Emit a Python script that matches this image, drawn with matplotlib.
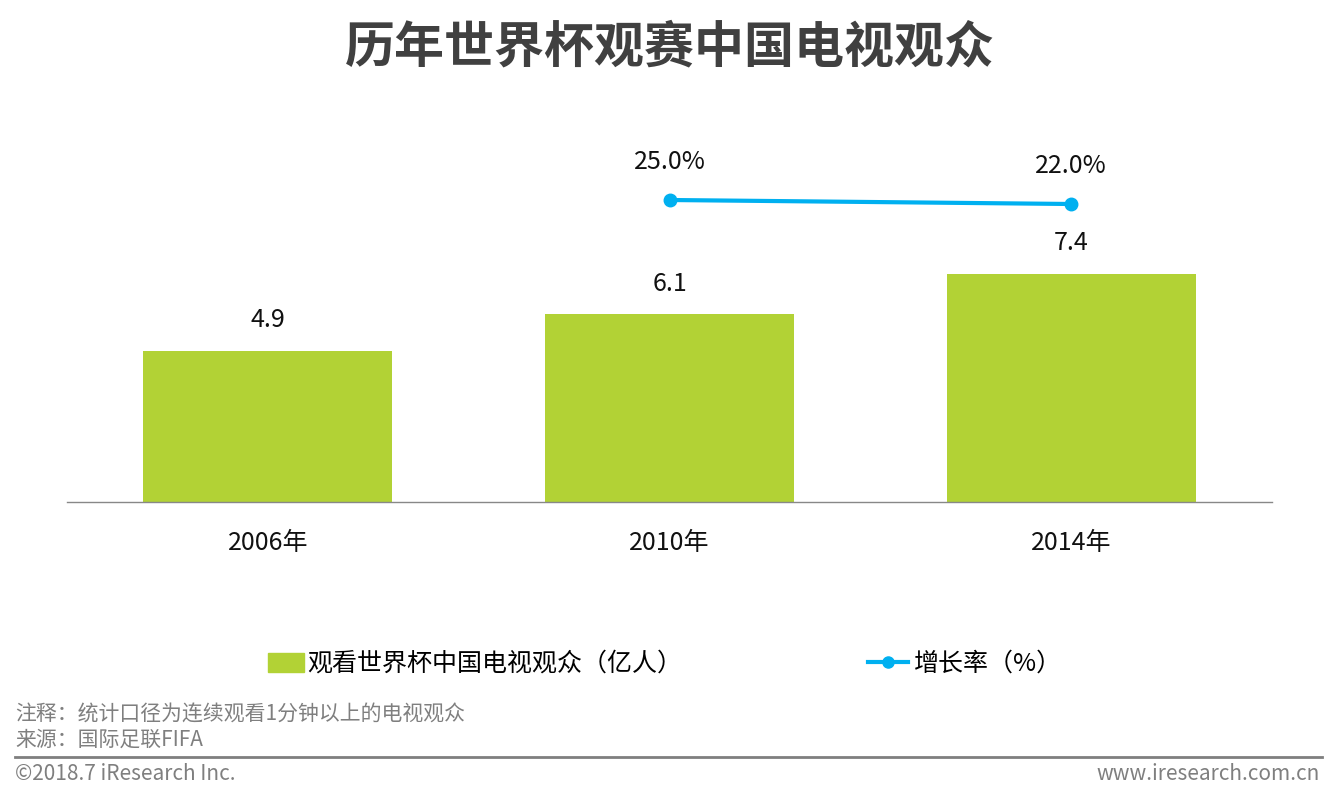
import matplotlib.pyplot as plt
from matplotlib.lines import Line2D
from matplotlib.patches import Patch

plt.rcParams['font.family'] = ['Noto Sans CJK SC', 'DejaVu Sans']

# data
years = ['2006年', '2010年', '2014年']
viewers = [4.9, 6.1, 7.4]          # 亿人
growth_years = [1, 2]
growth = [25.0, 22.0]              # %

bar_color = '#B2D235'
line_color = '#00B0F0'

fig = plt.figure(figsize=(13.35, 7.99), dpi=100)
ax = fig.add_axes([67 / 1335, 1 - 502 / 799, 1205 / 1335, 362 / 799])

x = range(len(years))
ax.bar(x, viewers, width=0.62, color=bar_color)
ax.set_xlim(-0.5, 2.5)
ax.set_ylim(0, 11.75)
for xi, v in zip(x, viewers):
    ax.annotate(f'{v:.1f}', (xi, v), xytext=(0, 22), textcoords='offset points',
                ha='center', va='center', fontsize=18, color='#111111')

ax.set_xticks(list(x))
ax.set_xticklabels(years, fontsize=18, color='#111111')
ax.tick_params(axis='x', length=0, pad=20)
ax.set_yticks([])
for s in ['top', 'right', 'left']:
    ax.spines[s].set_visible(False)
ax.spines['bottom'].set_color('#888888')
ax.spines['bottom'].set_linewidth(1)

ax2 = ax.twinx()
ax2.plot(growth_years, growth, color=line_color, lw=3, marker='o', markersize=9)
ax2.set_ylim(-201.5, 70)
ax2.set_yticks([])
for s in ax2.spines.values():
    s.set_visible(False)
for xi, g in zip(growth_years, growth):
    ax2.annotate(f'{g:.1f}%', (xi, g), xytext=(0, 27), textcoords='offset points',
                 ha='center', va='center', fontsize=18, color='#111111')

fig.text(0.502, 1 - 48 / 799, '历年世界杯观赛中国电视观众', ha='center', va='center',
         fontsize=36, fontweight='heavy', color='#404040')

# legends
fig.legend(handles=[Patch(color=bar_color)], labels=['观看世界杯中国电视观众（亿人）'],
           loc='center left', bbox_to_anchor=(245 / 1335, 1 - 664 / 799),
           frameon=False, fontsize=18, handlelength=1.45, handleheight=0.8,
           handletextpad=0.15)
fig.legend(handles=[Line2D([0], [0], color=line_color, lw=3, marker='o', markersize=8)],
           labels=['增长率（%）'],
           loc='center left', bbox_to_anchor=(846 / 1335, 1 - 664 / 799),
           frameon=False, fontsize=18, handlelength=1.6, handletextpad=0.2)

# footer
fig.text(15 / 1335, 1 - 715 / 799, '注释：统计口径为连续观看1分钟以上的电视观众',
         ha='left', va='center', fontsize=15, color='#7F7F7F')
fig.text(15 / 1335, 1 - 740 / 799, '来源：国际足联FIFA',
         ha='left', va='center', fontsize=15, color='#7F7F7F')
fig.add_artist(Line2D([15 / 1335, 1322 / 1335], [1 - 757 / 799, 1 - 757 / 799],
                      color='#7F7F7F', lw=2, transform=fig.transFigure))
fig.text(15 / 1335, 1 - 774 / 799, '©2018.7 iResearch Inc.',
         ha='left', va='center', fontsize=15, color='#7F7F7F')
fig.text(1320 / 1335, 1 - 774 / 799, 'www.iresearch.com.cn',
         ha='right', va='center', fontsize=15, color='#7F7F7F')

fig.savefig('out.png', dpi=100)
